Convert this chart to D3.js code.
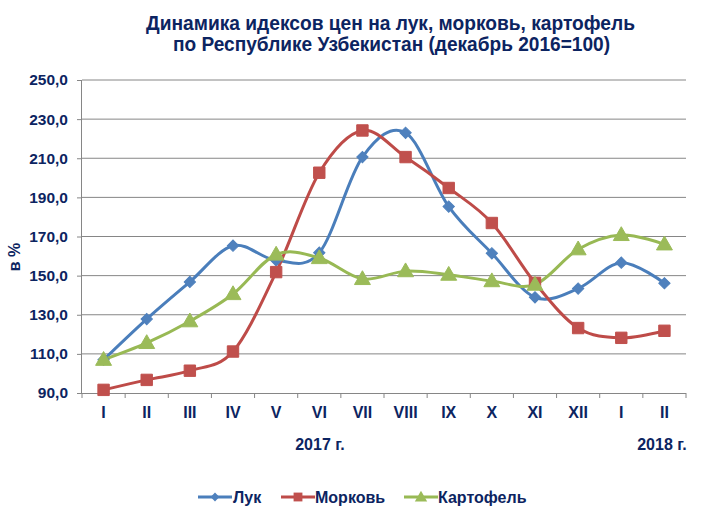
<!DOCTYPE html>
<html><head><meta charset="utf-8">
<script src="https://cdn.jsdelivr.net/npm/d3@7"></script>
<style>body{margin:0;background:#fff}svg{display:block}text{font-family:"Liberation Sans",Arial,sans-serif;font-weight:bold;fill:#0c2461}</style>
</head><body>
<svg id="c" width="709" height="517"></svg>
<script>
const months = ["I","II","III","IV","V","VI","VII","VIII","IX","X","XI","XII","I","II"];
const luk = [107.0,127.8,146.8,165.3,157.8,161.7,210.6,223.0,185.3,161.4,138.9,143.4,156.6,146.1];
const morkov = [91.6,96.7,101.4,111.2,151.8,202.6,224.2,210.6,194.8,176.9,146.3,123.2,118.2,121.8];
const kartofel = [107.0,115.6,126.7,140.6,160.8,159.0,148.3,152.3,150.5,147.2,145.4,163.5,170.8,166.0];
const yTicks = [90,110,130,150,170,190,210,230,250];
const seriesNames = ["Лук","Морковь","Картофель"];
const yearLabels = ["2017 г.","2018 г."];

const svg = d3.select("#c");
const L = 82, R = 686, T = 80, B = 393;
const x = d3.scaleBand().domain(d3.range(months.length)).range([L, R]);
const y = d3.scaleLinear().domain([90, 250]).range([B, T]);
const fmt = v => d3.format(".1f")(v).replace(".", ",");

// title
const title = svg.append("g");
title.append("text").attr("x", 390.5).attr("y", 30).attr("text-anchor", "middle").attr("font-size", 20.5)
  .attr("textLength", 489).attr("lengthAdjust", "spacingAndGlyphs")
  .text("Динамика идексов цен на лук, морковь, картофель");
title.append("text").attr("x", 391.5).attr("y", 51).attr("text-anchor", "middle").attr("font-size", 20.5)
  .attr("textLength", 437).attr("lengthAdjust", "spacingAndGlyphs")
  .text("по Республике Узбекистан (декабрь 2016=100)");

// gridlines
svg.append("g").selectAll("line").data(yTicks.filter(d => d > 90)).join("line")
  .attr("x1", L).attr("x2", R).attr("y1", d => y(d)).attr("y2", d => y(d))
  .attr("stroke", "#868686").attr("stroke-width", 1);

// y axis
const yAxis = svg.append("g").attr("transform", `translate(${L},0)`)
  .call(d3.axisLeft(y).tickValues(yTicks).tickFormat(fmt).tickSize(5).tickPadding(9));
yAxis.select(".domain").attr("stroke", "#868686").attr("d", `M-0.5,${T}V${B}`);
yAxis.selectAll(".tick line").attr("stroke", "#868686");
yAxis.selectAll("text").attr("font-size", 15.5).attr("fill", "#0c2461")
  .attr("font-family", '"Liberation Sans",Arial,sans-serif').attr("font-weight", "bold");

// x axis
const xAxis = svg.append("g").attr("transform", `translate(0,${B})`)
  .call(d3.axisBottom(x).tickSize(0).tickFormat(i => months[i]).tickPadding(14));
xAxis.select(".domain").attr("stroke", "#868686").attr("d", `M${L},0.5H${R}`);
xAxis.selectAll("text").attr("font-size", 16).attr("fill", "#0c2461")
  .attr("font-family", '"Liberation Sans",Arial,sans-serif').attr("font-weight", "bold");
// category tick marks between categories
svg.append("g").selectAll("line").data(d3.range(months.length + 1)).join("line")
  .attr("x1", i => L + i * x.step()).attr("x2", i => L + i * x.step())
  .attr("y1", B).attr("y2", B + 5).attr("stroke", "#868686");

// year labels
svg.append("text").attr("x", 320).attr("y", 450).attr("text-anchor", "middle").attr("font-size", 16).text(yearLabels[0]);
svg.append("text").attr("x", 662).attr("y", 450).attr("text-anchor", "middle").attr("font-size", 16).text(yearLabels[1]);

// y axis title
svg.append("text").attr("transform", "translate(20,257) rotate(-90)").attr("text-anchor", "middle")
  .attr("font-size", 16).text("в %");

const colors = [{line:"#4A7EBB", fill:"#4F81BD"},{line:"#BE4B48", fill:"#C0504D"},{line:"#98B954", fill:"#9BBB59"}];
const symbols = [d3.symbolSquare, d3.symbolSquare, d3.symbolTriangle];
const rot = [45, 0, 0];
const sizes = [64, 130, 110];
const data = [luk, morkov, kartofel];
const cx = i => x(i) + x.bandwidth() / 2;
const line = d3.line().x((d, i) => cx(i)).y(d => y(d)).curve(d3.curveCardinal.tension(0));

data.forEach((s, k) => {
  svg.append("path").datum(s).attr("d", line).attr("fill", "none")
    .attr("stroke", colors[k].line).attr("stroke-width", 3);
});
data.forEach((s, k) => {
  svg.append("g").selectAll("path").data(s).join("path")
    .attr("transform", (d, i) => `translate(${cx(i)},${y(d) + (k === 2 ? 1 : 0)}) rotate(${rot[k]})`)
    .attr("d", d3.symbol(symbols[k], sizes[k])())
    .attr("fill", colors[k].fill).attr("stroke", colors[k].fill).attr("stroke-width", 1);
});

// legend
const legX = [198, 281, 404], legTextX = [233, 315, 438], legY = 497;
seriesNames.forEach((n, k) => {
  const g = svg.append("g");
  g.append("line").attr("x1", legX[k]).attr("x2", legX[k] + 34).attr("y1", legY).attr("y2", legY)
    .attr("stroke", colors[k].line).attr("stroke-width", 3);
  g.append("path").attr("transform", `translate(${legX[k] + 17},${legY + (k === 2 ? 1 : 0)}) rotate(${rot[k]})`)
    .attr("d", d3.symbol(symbols[k], sizes[k] * 0.6)()).attr("fill", colors[k].fill);
  g.append("text").attr("x", legTextX[k]).attr("y", legY + 6).attr("font-size", 16).text(n);
});
</script>
</body></html>
